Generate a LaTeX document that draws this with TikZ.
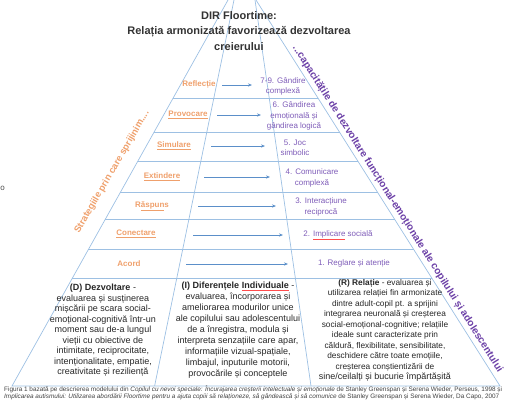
\documentclass[tikz,border=0pt]{standalone}
\usepackage{fontspec}
\setmainfont{Liberation Sans}
\usetikzlibrary{calc,arrows.meta}
\definecolor{lineblue}{HTML}{9DC0E3}
\definecolor{arrowblue}{HTML}{5B8FC9}
\definecolor{strat}{HTML}{EFA06C}
\definecolor{cap}{HTML}{7E5CB8}
\definecolor{capdark}{HTML}{6B3FA6}
\definecolor{titlegray}{HTML}{333333}
\definecolor{bodygray}{HTML}{262626}
\newcommand\spellu[3]{{\color{#1}\underline{\textcolor{#2}{#3}}}}
\begin{document}
\begin{tikzpicture}[x=1pt,y=-1pt,
  edge/.style={draw=lineblue, line width=0.7pt},
  arr/.style={draw=arrowblue, line width=1pt, -{Stealth[length=4pt,width=3.2pt]}},
  stratlbl/.style={text=strat, font=\fontsize{8}{9}\selectfont\bfseries, inner sep=0},
  caplbl/.style={text=cap, font=\fontsize{8}{10.4}\selectfont, align=center, inner sep=0},
  boxtxt/.style={text=bodygray, font=\fontsize{9}{10.5}\selectfont, align=center, inner sep=0, anchor=north},
]
\useasboundingbox (0,0) rectangle (507,400);
% pyramid frame
\coordinate (LE0) at (228,0);
\coordinate (LE1) at (12,386);
\coordinate (RE0) at (256,0);
\coordinate (RE1) at (500,386);
\coordinate (LD0) at (234,0);
\coordinate (LD1) at (154.6,386);
\coordinate (RD0) at (255,0);
\coordinate (RD1) at (311,386);
\draw[edge] (LE0) -- (LE1) -- (RE1) -- (RE0);
\draw[edge] (LD0) -- (LD1);
\draw[edge] (RD0) -- (RD1);
\foreach \yy in {98,132.5,161.5,192.5,219.5,249.5,278}{
  \draw[edge] ($(LE0)!{\yy/386}!(LE1)$) -- ($(RE0)!{\yy/386}!(RE1)$);
}
% title
\node[text=titlegray, font=\fontsize{11}{15.5}\selectfont\bfseries, align=center, inner sep=0] (title) at (239,31)
  {DIR Floortime:\\Relația armonizată favorizează dezvoltarea\\creierului};
% strategies
\node[stratlbl] (s7) at (199,85) {Reflecție};
\node[stratlbl] (s6) at (188,115) {\spellu{strat}{strat}{Provocare}};
\node[stratlbl] (s5) at (174,146) {\spellu{strat}{strat}{Simulare}};
\node[stratlbl] (s4) at (162,177) {\spellu{strat}{strat}{Extindere}};
\node[stratlbl] (s3) at (152,206) {R\spellu{strat}{strat}{ăspun}s};
\node[stratlbl] (s2) at (136,234) {\spellu{strat}{strat}{Conectare}};
\node[stratlbl] (s1) at (129,264) {Acord};
% capacities
\node[caplbl] (c7) at (283,86.5) {7-9. Gândire\\complexă};
\node[caplbl] (c6) at (294,116) {6. Gândirea\\emoțională și\\gândirea logică};
\node[caplbl] (c5) at (295,148) {5. Joc\\simbolic};
\node[caplbl] (c4) at (312,178) {4. Comunicare\\complexă};
\node[caplbl] (c3) at (321,207) {3. Interacțiune\\reciprocă};
\node[caplbl] (c2) at (338,235) {2. \spellu{red!70}{cap}{Implicare} socială};
\node[caplbl] (c1) at (354,263) {1. Reglare și atenție};
% arrows
\coordinate (a7s) at (222,85);  \coordinate (a7e) at (252,85);
\coordinate (a6s) at (217,115); \coordinate (a6e) at (261,115);
\coordinate (a5s) at (211,146); \coordinate (a5e) at (265,146);
\coordinate (a4s) at (204,177); \coordinate (a4e) at (270,177);
\coordinate (a3s) at (198,206); \coordinate (a3e) at (276,206);
\coordinate (a2s) at (193,235); \coordinate (a2e) at (283,235);
\coordinate (a1s) at (186,264); \coordinate (a1e) at (288,264);
\foreach \i in {1,...,7}{ \draw[arr] (a\i s) -- (a\i e); }
% diagonal texts
\node[text=strat, font=\fontsize{9.4}{10}\selectfont\bfseries, rotate=60, inner sep=0] (leftdiag) at (112,172)
  {Strategiile prin care sprijinim....};
\node[text=capdark, font=\fontsize{10.1}{11}\selectfont\bfseries, rotate=-57.7, anchor=south, inner sep=3pt] (rightdiag)
  at ($(RE0)!0.552!(RE1)$)
  {...capacitățile de dezvoltare funcțional-emoționale ale copilului și adolescentului};
% bottom boxes
\node[boxtxt] (dbox) at (103,284) {\textbf{(D) Dezvoltare} -\\evaluarea și susținerea\\mișcării pe scara social-\\emoțional-cognitivă într-un\\moment sau de-a lungul\\vieții cu obiective de\\intimitate, reciprocitate,\\intenționalitate, empatie,\\creativitate și reziliență};
\node[boxtxt, font=\fontsize{9}{11}\selectfont] (ibox) at (238,282) {\textbf{(I) Diferențele \spellu{red!70}{bodygray}{Individuale}} -\\evaluarea, încorporarea și\\ameliorarea modurilor unice\\ale copilului sau adolescentului\\de a înregistra, modula și\\interpreta senzațiile care apar,\\informațiile vizual-spațiale,\\limbajul, inputurile motorii,\\provocările și conceptele};
\node[boxtxt, font=\fontsize{8.3}{10.5}\selectfont] (rbox) at (385,279) {\textbf{(R) Relație} - evaluarea și\\utilizarea relației fin armonizate\\dintre adult-copil pt. a sprijini\\integrarea neuronală și creșterea\\social-emoțional-cognitive; relațiile\\ideale sunt caracterizate prin\\căldură, flexibilitate, sensibilitate,\\deschidere către toate emoțiile,\\creșterea conștientizării de\\{\fontsize{9}{10.5}\selectfont sine/ceilalți și bucurie împărtășită}};
% caption
\node[text=black!75, font=\fontsize{6.4}{7}\selectfont, anchor=west, inner sep=0] (cap1) at (4,389.5)
  {Figura 1 bazată pe descrierea modelului din \textit{Copilul cu nevoi speciale: Încurajarea creșterii intelectuale și emoționale} de Stanley Greenspan și Serena Wieder, Perseus, 1998 și};
\node[text=black!75, font=\fontsize{6.4}{7}\selectfont\itshape, anchor=west, inner sep=0] (cap2) at (4,396.5)
  {Implicarea autismului: Utilizarea abordării Floortime pentru a ajuta copiii să relaționeze, să gândească și să comunice \upshape de Stanley Greenspan și Serena Wieder, Da Capo, 2007};
\node[text=black!70, font=\fontsize{8}{9}\selectfont, inner sep=0] (frag) at (2.5,188) {o};
\end{tikzpicture}
\end{document}
